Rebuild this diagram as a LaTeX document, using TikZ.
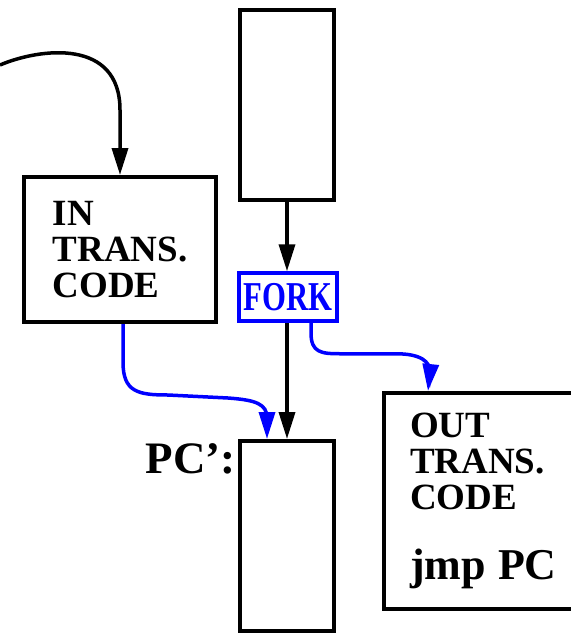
\documentclass[tikz,border=0pt]{standalone}
\usepackage{fontspec}
\setmainfont{Liberation Serif}
\usetikzlibrary{positioning,arrows.meta}

\begin{document}
\begin{tikzpicture}[x=1pt, y=-1pt,
  box/.style={draw, line width=4pt, inner sep=0pt, font=\bfseries\fontsize{37}{36}\selectfont},
  lbl/.style={inner sep=0pt, font=\bfseries\fontsize{45}{45}\selectfont},
  arr/.style={-{Triangle[length=27pt,width=16pt]}, line width=3.5pt},
  barr/.style={arr, blue}]
\useasboundingbox (0,0) rectangle (571,633);

\node[box, minimum width=94pt, minimum height=190pt] (top) at (287,105) {};
\node[box, draw=blue, text=blue, line width=3.5pt, minimum width=98pt, minimum height=48pt] (fork) at (288,297)
  {\fontsize{41}{41}\selectfont\scalebox{0.75}[1]{FORK}};
\node[box, align=left, minimum width=192pt, minimum height=145pt] (in) at (120,249.5) {IN\\TRANS.\\CODE};
\node[box, minimum width=94pt, minimum height=190pt] (pc) at (287,536) {};
\node[box, align=left, text width=168pt, minimum width=220pt, minimum height=216pt] (out) at (494,501)
  {OUT\\TRANS.\\CODE\\[34pt]{\fontsize{44}{44}\selectfont jmp PC}};
\node[lbl, anchor=base east] (pclbl) at ([xshift=-2pt, yshift=-34pt]pc.north west) {PC':};

\coordinate (src) at (0,65);

\draw[arr] (src) .. controls (40,48) and (120,38) .. (120,110) -- (in.north);
\draw[arr] (top.south) -- (top.south |- fork.north);
\draw[arr] (pc.north |- fork.south) -- (pc.north);
\draw[barr] ([xshift=3pt]in.south) -- ++(0,38) .. controls +(0,30) and +(-30,0) .. ++(45,33)
  -- ++(60,3) .. controls +(28,2) and +(0,-14) .. ++(39,20) -- ([xshift=-20pt]pc.north);
\draw[barr] ([xshift=23pt]fork.south) -- ++(0,10) .. controls +(0,20) and +(-20,0) .. ++(30,21)
  -- ++(55,0) .. controls +(25,0) and +(0,-10) .. ++(34,18) -- ([xshift=46pt]out.north west);
\end{tikzpicture}
\end{document}
